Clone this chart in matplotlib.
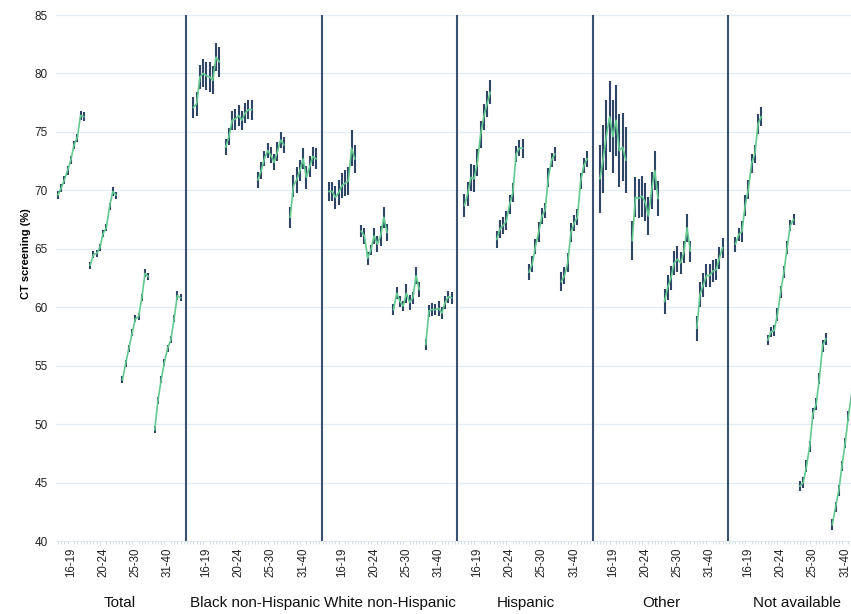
import matplotlib
matplotlib.use("Agg")
from matplotlib import pyplot as plt
from matplotlib import font_manager
from matplotlib.ticker import MultipleLocator
import matplotlib.transforms as mtransforms

groups = ["Total", "Black non-Hispanic", "White non-Hispanic", "Hispanic", "Other", "Not available"]
ages = ["16-19", "20-24", "25-30", "31-40"]

# 9 points per age group, 4 age groups per race group
total_val = [69.6, 70.2, 70.9, 71.7, 72.6, 73.9, 74.5, 76.4, 76.3,
             63.6, 64.5, 64.6, 65.1, 66.3, 66.8, 68.6, 69.9, 69.6,
             53.8, 55.2, 56.5, 57.8, 59.0, 59.2, 60.8, 62.9, 62.6,
             49.5, 52.0, 53.8, 55.3, 56.5, 57.2, 59.0, 61.0, 60.8]
total_err = [0.35, 0.35, 0.35, 0.35, 0.35, 0.35, 0.35, 0.4, 0.4,
             0.3, 0.3, 0.3, 0.3, 0.3, 0.3, 0.3, 0.35, 0.3,
             0.3, 0.3, 0.3, 0.3, 0.3, 0.3, 0.3, 0.35, 0.3,
             0.3, 0.3, 0.3, 0.3, 0.3, 0.3, 0.3, 0.35, 0.3]

black_val = [77.1, 77.4, 79.7, 80.0, 79.8, 79.7, 79.4, 81.4, 81.0,
             73.7, 74.6, 76.0, 76.1, 76.4, 76.0, 76.6, 76.9, 76.9,
             70.9, 71.7, 72.7, 73.4, 73.0, 72.4, 73.3, 74.3, 73.9,
             67.7, 70.4, 70.9, 71.7, 72.7, 71.1, 72.0, 72.9, 72.7]
black_err = [0.9, 1.0, 1.05, 1.2, 1.2, 1.25, 1.2, 1.2, 1.3,
             0.65, 0.7, 0.8, 0.9, 0.9, 0.8, 0.85, 0.8, 0.85,
             0.7, 0.7, 0.65, 0.65, 0.7, 0.7, 0.8, 0.7, 0.7,
             0.9, 0.95, 1.1, 0.9, 0.9, 0.95, 0.9, 0.8, 0.9]

white_val = [69.9, 69.9, 69.4, 69.8, 70.4, 70.6, 70.8, 73.6, 72.7,
             66.5, 66.1, 64.2, 64.9, 66.1, 65.4, 66.1, 67.7, 66.4,
             59.8, 61.2, 60.5, 60.1, 61.2, 60.4, 60.8, 62.7, 61.5,
             56.8, 59.7, 59.8, 59.8, 59.9, 59.5, 60.4, 60.9, 60.8]
white_err = [0.8, 0.85, 1.0, 1.05, 1.05, 1.1, 1.2, 1.55, 1.2,
             0.5, 0.7, 0.55, 0.45, 0.7, 0.7, 0.85, 0.9, 0.7,
             0.5, 0.5, 0.5, 0.45, 0.8, 0.65, 0.5, 0.7, 0.65,
             0.45, 0.5, 0.55, 0.5, 0.65, 0.55, 0.55, 0.5, 0.5]

hisp_val = [68.7, 69.7, 71.1, 71.0, 72.4, 74.8, 76.3, 77.4, 78.4,
            65.8, 66.7, 67.0, 67.4, 68.8, 69.8, 73.1, 73.6, 73.6,
            63.0, 63.7, 65.2, 66.4, 67.8, 68.3, 71.1, 72.6, 73.1,
            62.2, 62.7, 63.8, 66.4, 67.2, 67.7, 70.8, 72.1, 72.7]
hisp_err = [1.0, 1.05, 1.15, 1.15, 1.15, 1.15, 1.1, 1.1, 1.05,
            0.75, 0.8, 0.7, 0.8, 0.8, 0.8, 0.7, 0.7, 0.8,
            0.7, 0.65, 0.65, 0.85, 0.7, 0.65, 0.8, 0.6, 0.6,
            0.8, 0.7, 0.8, 0.8, 0.7, 0.7, 0.65, 0.65, 0.7]

other_val = [71.0, 72.7, 74.7, 76.3, 74.6, 76.0, 73.4, 73.7, 72.6,
             65.7, 69.4, 69.3, 69.5, 69.0, 67.8, 70.0, 71.7, 69.3,
             60.5, 61.7, 62.5, 63.8, 64.1, 63.8, 64.7, 66.8, 64.8,
             58.2, 61.1, 61.9, 62.7, 62.7, 63.1, 63.2, 64.2, 65.1]
other_err = [2.9, 2.9, 3.0, 3.05, 3.1, 3.05, 3.1, 2.9, 2.8,
             1.7, 1.7, 1.7, 1.75, 1.6, 1.65, 1.6, 1.7, 1.5,
             1.1, 1.05, 1.05, 1.05, 1.1, 0.95, 0.95, 1.2, 0.9,
             1.05, 1.1, 1.05, 1.0, 1.0, 0.95, 0.9, 0.95, 0.85]

na_val = [65.4, 66.2, 66.5, 68.7, 70.1, 72.3, 73.1, 75.7, 76.3,
          57.2, 57.9, 58.0, 59.4, 61.3, 63.0, 65.1, 67.0, 67.5,
          44.7, 45.0, 46.4, 48.1, 50.9, 51.7, 53.9, 56.7, 57.3,
          41.4, 42.9, 44.3, 46.4, 48.4, 50.7, 52.6, 54.4, 55.1]
na_err = [0.65, 0.55, 0.9, 0.9, 0.8, 0.85, 0.8, 0.85, 0.8,
          0.45, 0.45, 0.5, 0.55, 0.5, 0.5, 0.55, 0.5, 0.45,
          0.45, 0.45, 0.5, 0.45, 0.5, 0.5, 0.5, 0.5, 0.5,
          0.45, 0.45, 0.45, 0.45, 0.45, 0.45, 0.45, 0.45, 0.45]

values = [total_val, black_val, white_val, hisp_val, other_val, na_val]
errors = [total_err, black_err, white_err, hisp_err, other_err, na_err]

navy = "#2f4566"
green = "#62c98f"
grid_c = "#e4ecf5"

# narrow font for the group labels if one is installed
try:
  font_manager.findfont("Liberation Sans Narrow", fallback_to_default=False)
  grp_font, grp_size = "Liberation Sans Narrow", 14.5
except ValueError:
  grp_font, grp_size = "Liberation Sans", 11

plt.rcParams["font.family"] = ["Liberation Sans", "DejaVu Sans"]

n_pts = 9
sub_step = 10
grp_step = 42

fig = plt.figure(figsize=(8.51, 6.14), dpi=100)
ax = fig.add_axes([56/851, 73/614, 795/851, 526/614])

centers = []
for g in range(len(groups)):
  for s in range(len(ages)):
    xs = [g*grp_step + s*sub_step + k for k in range(n_pts)]
    ys = values[g][s*n_pts:(s+1)*n_pts]
    es = errors[g][s*n_pts:(s+1)*n_pts]
    ax.errorbar(xs, ys, yerr=es, fmt="none", ecolor=navy, elinewidth=1.5,
                capsize=0, zorder=2)
    ax.plot(xs, ys, color=green, lw=1.2, zorder=3)
    centers.append(g*grp_step + s*sub_step + 4)
  if g > 0:
    ax.axvline(g*grp_step - 2.3, color="#3b5172", lw=1.5, zorder=4)

ax.set_xlim(-0.6, 245.8)
ax.set_ylim(40, 85)
ax.set_yticks(range(40, 86, 5))
ax.yaxis.grid(True, color=grid_c, lw=0.9)
ax.set_axisbelow(True)
ax.tick_params(axis="y", length=0, pad=6, labelsize=8.5, labelcolor="#222222")

ax.set_xticks(centers)
ax.set_xticklabels(ages*len(groups), rotation=90, fontsize=8.3, color="#222222")
ax.tick_params(axis="x", which="major", length=0, pad=5)
ax.xaxis.set_minor_locator(MultipleLocator(1))
ax.tick_params(axis="x", which="minor", length=2, width=0.6, color="#c9d7e8")

for sp in ["top", "right", "left"]:
  ax.spines[sp].set_visible(False)
ax.spines["bottom"].set_color("#dbe5f0")
ax.spines["bottom"].set_linewidth(0.6)

ax.set_ylabel("CT screening (%)", fontsize=8, fontweight="bold")
ax.yaxis.set_label_coords(-0.031, 0.546)

trans = mtransforms.blended_transform_factory(ax.transData, ax.transAxes)
for g, name in enumerate(groups):
  ax.text(g*grp_step + 19, -0.118, name, transform=trans, ha="center", va="center",
          fontsize=grp_size, family=grp_font, color="#111111")

plt.savefig("out.png", dpi=100)
